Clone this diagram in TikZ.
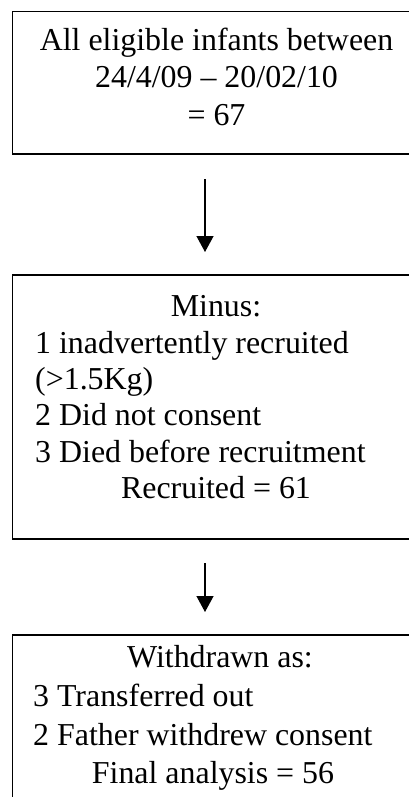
\documentclass[tikz,border=0pt]{standalone}
\usepackage{fontspec}
\setmainfont{Liberation Serif}
\usetikzlibrary{arrows.meta}
\begin{document}
\begin{tikzpicture}[x=1pt,y=-1pt,
  boxst/.style={draw=black,line width=1.8pt,rectangle,inner sep=0pt,outer sep=0pt,minimum width=408.5pt},
  txt/.style={inner sep=0pt,font=\fontsize{31.9}{37}\selectfont},
  arr/.style={line width=1.3pt,-{Triangle[width=17pt,length=16pt]}}]
\useasboundingbox[fill=white] (0,0) rectangle (409,797);
\clip (0,0) rectangle (409,797);
% boxes
\node[boxst,minimum height=142.5pt] (b1) at (216.75,82.75) {};
\node[boxst,minimum height=264pt] (b2) at (216.75,407) {};
\node[boxst,minimum height=205pt] (b3) at (216.75,737.5) {};
% box 1 text
\node[txt,anchor=base] (t11) at (216.5,51) {All eligible infants between};
\node[txt,anchor=base] (t12) at (216.5,88) {24/4/09 – 20/02/10};
\node[txt,anchor=base] (t13) at (216.5,125) {= 67};
% box 2 text
\node[txt,anchor=base] (t21) at (216,316) {Minus:};
\node[txt,anchor=base west] (t22) at (35,353) {1 inadvertently recruited};
\node[txt,anchor=base west] (t23) at (35,389) {(>1.5Kg)};
\node[txt,anchor=base west] (t24) at (35,425) {2 Did not consent};
\node[txt,anchor=base west] (t25) at (35,462) {3 Died before recruitment};
\node[txt,anchor=base] (t26) at (216,498) {Recruited = 61};
% box 3 text
\node[txt,anchor=base] (t31) at (220,667) {Withdrawn as:};
\node[txt,anchor=base west] (t32) at (33,706) {3 Transferred out};
\node[txt,anchor=base west] (t33) at (33,745) {2 Father withdrew consent};
\node[txt,anchor=base] (t34) at (213,783) {Final analysis = 56};
% arrows
\coordinate (a1s) at (205,179);
\coordinate (a1e) at (205,252);
\coordinate (a2s) at (205,563);
\coordinate (a2e) at (205,612);
\draw[arr] (a1s) -- (a1e);
\draw[arr] (a2s) -- (a2e);
\end{tikzpicture}
\end{document}
